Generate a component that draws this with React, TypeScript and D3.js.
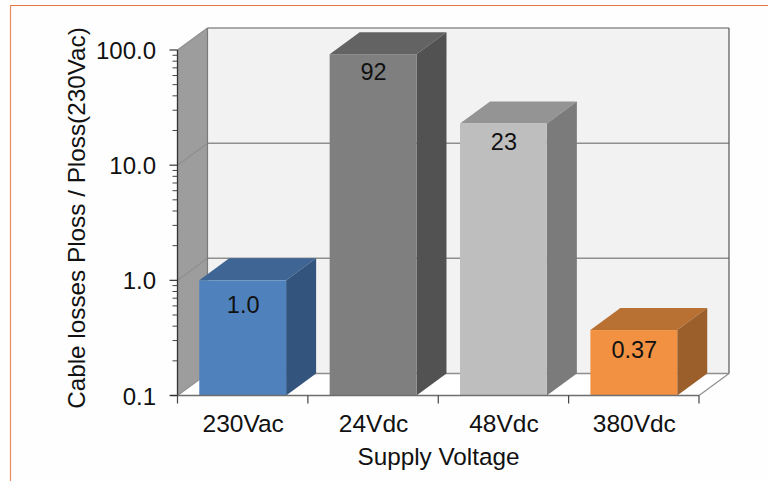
import React from "react";
import * as d3 from "d3";

const categories = ["230Vac", "24Vdc", "48Vdc", "380Vdc"];
const values = [1.0, 92, 23, 0.37];
const valueLabels = ["1.0", "92", "23", "0.37"];
const labelDrops = [33, 26, 26, 28];
const frontColors = ["#4f81bd", "#7f7f7f", "#bebebe", "#f29141"];
const topColors = ["#3e6594", "#636363", "#949494", "#b87033"];
const sideColors = ["#32547d", "#525252", "#7b7b7b", "#9b5f2b"];
const majorTicks = [0.1, 1, 10, 100];
const tickLabels = ["0.1", "1.0", "10.0", "100.0"];
const xTitle = "Supply Voltage";
const yTitle = "Cable losses Ploss / Ploss(230Vac)";

const DX = 30;
const DY = -22;
const FONT = "'Liberation Sans', Arial, sans-serif";

export default function App() {
  const y = d3.scaleLog().domain([0.1, 100]).range([395.5, 50]);
  const x = d3.scaleBand<string>().domain(categories).range([177.5, 699]).paddingInner(0.334).paddingOuter(0.167);
  const x0 = 177.5, x1 = 699, y0 = y(0.1), yTop = y(100);
  const minor: number[] = [];
  [0.1, 1, 10].forEach((d) => d3.range(2, 10).forEach((m) => minor.push(d * m)));
  const bandStep = x.step();
  const gridC = "#8f8f8f";
  return (
    <svg width={768} height={481} style={{ position: "absolute", left: 0, top: 0, background: "#fefefe" }}>
      {/* frame */}
      <line x1={10} x2={768} y1={5.5} y2={5.5} stroke="#e8743f" strokeWidth={1.2} />
      <line x1={10.5} x2={10.5} y1={5} y2={481} stroke="#f08a5c" strokeWidth={1.2} />
      {/* walls */}
      <polygon points={`${x0 + DX},${yTop + DY} ${x1 + DX},${yTop + DY} ${x1 + DX},${y0 + DY} ${x0 + DX},${y0 + DY}`} fill="#f2f2f2" />
      <polygon points={`${x0},${yTop} ${x0 + DX},${yTop + DY} ${x0 + DX},${y0 + DY} ${x0},${y0}`} fill="#9d9d9d" />
      <polygon points={`${x0},${y0} ${x1},${y0} ${x1 + DX},${y0 + DY} ${x0 + DX},${y0 + DY}`} fill="#ffffff" />
      {/* gridlines */}
      {majorTicks.map((t) => (
        <g key={t} stroke={gridC} fill="none" strokeWidth={1.2}>
          <line x1={x0 + DX} x2={x1 + DX} y1={y(t) + DY} y2={y(t) + DY} strokeWidth={1.5} />
          <line x1={x0} x2={x0 + DX} y1={y(t)} y2={y(t) + DY} />
        </g>
      ))}
      <line x1={x0 + DX} x2={x0 + DX} y1={yTop + DY} y2={y0 + DY} stroke="#7a7a7a" strokeWidth={1.2} />
      <line x1={x1 + DX} x2={x1 + DX} y1={yTop + DY} y2={y0 + DY} stroke="#555" strokeWidth={1.2} />
      <line x1={x1} x2={x1 + DX} y1={y0} y2={y0 + DY} stroke={gridC} strokeWidth={1.2} />
      {/* bars */}
      {categories.map((c, i) => {
        const l = x(c)!, w = x.bandwidth(), r = l + w, t = y(values[i]);
        return (
          <g key={c}>
            <polygon points={`${l},${t} ${l + DX},${t + DY} ${r + DX},${t + DY} ${r},${t}`} fill={topColors[i]} />
            <polygon points={`${r},${t} ${r + DX},${t + DY} ${r + DX},${y0 + DY} ${r},${y0}`} fill={sideColors[i]} />
            <rect x={l} y={t} width={w} height={y0 - t} fill={frontColors[i]} />
            <text x={l + w / 2 + 0.5} y={t + labelDrops[i]} textAnchor="middle" fontFamily={FONT} fontSize={23.5} fill="#111">{valueLabels[i]}</text>
          </g>
        );
      })}
      {/* axes */}
      <line x1={x0} x2={x0} y1={yTop} y2={y0} stroke="#333" strokeWidth={1.3} />
      <line x1={x0 - 7} x2={x1} y1={y0} y2={y0} stroke="#6e6e6e" strokeWidth={1.5} />
      {minor.map((t) => (
        <line key={t} x1={x0 - 5} x2={x0} y1={y(t)} y2={y(t)} stroke="#444" strokeWidth={1} />
      ))}
      {majorTicks.map((t, i) => (
        <g key={t}>
          <line x1={x0 - 8} x2={x0} y1={y(t)} y2={y(t)} stroke="#333" strokeWidth={1.2} />
          <text x={156} y={y(t) + 9} textAnchor="end" fontFamily={FONT} fontSize={24} fill="#111">{tickLabels[i]}</text>
        </g>
      ))}
      {d3.range(categories.length + 1).map((i) => (
        <line key={i} x1={x0 + i * bandStep} x2={x0 + i * bandStep} y1={y0} y2={y0 + 8} stroke="#444" strokeWidth={1.2} />
      ))}
      {categories.map((c) => (
        <text key={c} x={x(c)! + x.bandwidth() / 2 + 0.5} y={432} textAnchor="middle" fontFamily={FONT} fontSize={24.5} fill="#111">{c}</text>
      ))}
      <text x={438.5} y={465} textAnchor="middle" fontFamily={FONT} fontSize={24.3} fill="#111">{xTitle}</text>
      <text transform="translate(85,218) rotate(-90)" textAnchor="middle" fontFamily={FONT} fontSize={24.3} fill="#111">{yTitle}</text>
    </svg>
  );
}
